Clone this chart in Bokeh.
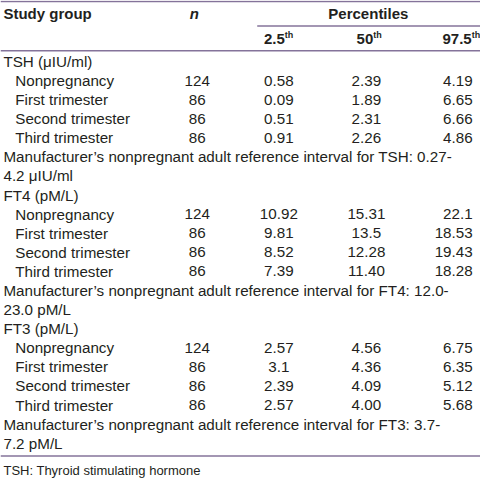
from bokeh.plotting import figure
from bokeh.models import Range1d
from bokeh.core.properties import value
from bokeh.embed import file_html
from bokeh.resources import INLINE

# ---- data ----
groups = ["TSH (μIU/ml)", "FT4 (pM/L)", "FT3 (pM/L)"]
subgroups = ["Nonpregnancy", "First trimester", "Second trimester", "Third trimester"]
n_values = [["124", "86", "86", "86"], ["124", "86", "86", "86"], ["124", "86", "86", "86"]]
p025 = [["0.58", "0.09", "0.51", "0.91"], ["10.92", "9.81", "8.52", "7.39"], ["2.57", "3.1", "2.39", "2.57"]]
p50 = [["2.39", "1.89", "2.31", "2.26"], ["15.31", "13.5", "12.28", "11.40"], ["4.56", "4.36", "4.09", "4.00"]]
p975 = [["4.19", "6.65", "6.66", "4.86"], ["22.1", "18.53", "19.43", "18.28"], ["6.75", "6.35", "5.12", "5.68"]]
notes = [
    ["Manufacturer’s nonpregnant adult reference interval for TSH: 0.27-", "4.2 μIU/ml"],
    ["Manufacturer’s nonpregnant adult reference interval for FT4: 12.0-", "23.0 pM/L"],
    ["Manufacturer’s nonpregnant adult reference interval for FT3: 3.7-", "7.2 pM/L"],
]
header_cols = ["Study group", "n", "Percentiles"]
pct_labels = ["2.5", "50", "97.5"]
footnote = "TSH: Thyroid stimulating hormone"

# ---- layout / style ----
W, H = 488, 491
TXT = "#231f20"
RULE = "#84739a"
BODY_FONT = value("Liberation Sans")
HEAD_FONT = value("Liberation Sans")
FS = "15.2px"
ROW0, ROWH = 62, 19.4

p = figure(width=480, height=483, x_range=Range1d(0, W), y_range=Range1d(H, 0),
           output_backend="svg", toolbar_location=None, min_border=0,
           background_fill_color="white", border_fill_color="white")
p.axis.visible = False
p.grid.visible = False
p.outline_line_color = None

# rules
p.segment(x0=[0, 261, 0, 0], y0=[1, 26, 51, 463], x1=[W, W, W, W], y1=[1, 26, 51, 463],
          line_color=RULE, line_width=1.5)

# header
p.text(x=[3], y=[13], text=[header_cols[0]], text_font=HEAD_FONT, text_font_style="bold",
       text_font_size="15px", text_color=TXT, text_baseline="middle", text_align="left")
p.text(x=[197], y=[13], text=[header_cols[1]], text_font=HEAD_FONT, text_font_style="bold italic",
       text_font_size="15px", text_color=TXT, text_baseline="middle", text_align="center")
p.text(x=[374], y=[13], text=[header_cols[2]], text_font=HEAD_FONT, text_font_style="bold",
       text_font_size="15px", text_color=TXT, text_baseline="middle", text_align="center")
ends = [289, 379, 479]
p.text(x=ends, y=[39] * 3, text=pct_labels, text_font=HEAD_FONT, text_font_style="bold",
       text_font_size="15px", text_color=TXT, text_baseline="middle", text_align="right")
p.text(x=ends, y=[35] * 3, text=["th"] * 3, text_font=HEAD_FONT, text_font_style="bold",
       text_font_size="9px", text_color=TXT, text_baseline="middle", text_align="left")

# body
lx, ly = [], []
lab, labx = [], []
cx, cy, ct, ca = [], [], [], []
row = 0
for g in range(len(groups)):
    lab.append(groups[g]); labx.append(3); ly.append(ROW0 + ROWH * row); row += 1
    for s in range(len(subgroups)):
        y = ROW0 + ROWH * row
        lab.append(subgroups[s]); labx.append(15); ly.append(y)
        for xv, txt, al in [(200, n_values[g][s], "center"), (283, p025[g][s], "center"),
                            (372, p50[g][s], "center"), (480, p975[g][s], "right")]:
            cx.append(xv); cy.append(y); ct.append(txt); ca.append(al)
        row += 1
    for line in notes[g]:
        lab.append(line); labx.append(3); ly.append(ROW0 + ROWH * row); row += 1

p.text(x=labx, y=ly, text=lab, text_font=BODY_FONT, text_font_size=FS, text_color=TXT,
       text_baseline="middle", text_align="left")
for al in ["center", "right"]:
    idx = [i for i, a in enumerate(ca) if a == al]
    p.text(x=[cx[i] for i in idx], y=[cy[i] for i in idx], text=[ct[i] for i in idx],
           text_font=BODY_FONT, text_font_size=FS, text_color=TXT,
           text_baseline="middle", text_align=al)

p.text(x=[3], y=[478], text=[footnote], text_font=BODY_FONT, text_font_size="13px",
       text_color=TXT, text_baseline="middle", text_align="left")

open("out.html", "w").write(file_html(p, INLINE))
